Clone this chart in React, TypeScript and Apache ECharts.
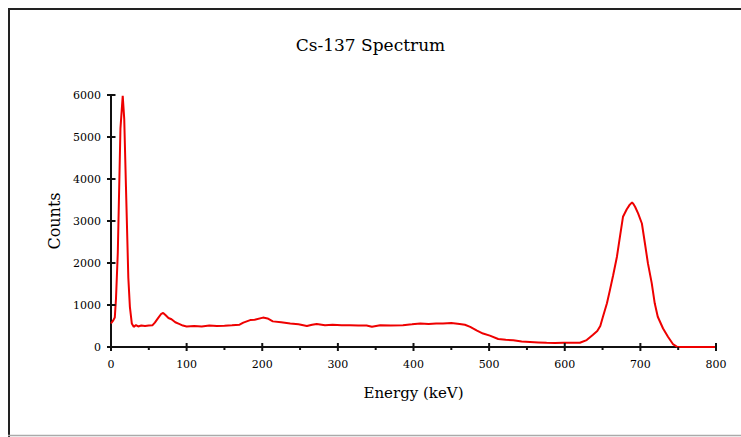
import React, { useEffect, useRef } from "react";
import * as echarts from "echarts";

const titleText = "Cs-137 Spectrum";
const xName = "Energy (keV)";
const yName = "Counts";

// Energy (keV)
const energy = [
  0, 2.5, 5, 6.6, 9, 12.5, 15.5, 17.5, 19.8, 22.9, 25, 27.5, 30, 33, 36, 40, 45, 50, 55, 58,
  62, 66, 69, 72, 76, 80, 85, 90, 95, 100, 110, 120, 130, 140, 150, 160, 170, 175, 184, 190,
  201, 207, 214, 225, 237, 248, 259, 266, 272, 283, 293, 305, 316, 327, 338, 345, 356, 370, 386, 398,
  409, 420, 430, 439, 450, 461, 468, 475, 484, 492, 501, 512, 522, 532, 543, 554, 565, 576, 587, 598,
  610, 620, 629, 637, 643, 647, 650.5, 655.8, 659.8, 664, 669, 673, 677, 682, 686, 689, 691, 693, 697, 702,
  706, 710, 715, 719, 723, 730, 736.5, 743, 749, 815,
];
// Counts
const counts = [
  560, 620, 700, 1150, 2250, 5200, 5980, 5430, 3800, 1650, 950, 560, 480, 520, 490, 510, 500, 510, 520, 580,
  680, 780, 810, 760, 690, 660, 590, 550, 510, 490, 500, 490, 510, 500, 505, 515, 530, 580, 640, 650,
  700, 680, 610, 590, 560, 540, 500, 530, 550, 520, 530, 520, 520, 510, 510, 480, 520, 510, 520, 540,
  560, 545, 560, 560, 570, 550, 530, 480, 390, 320, 270, 190, 170, 160, 130, 120, 110, 100, 95, 100,
  100, 100, 165, 285, 380, 500, 720, 1040, 1360, 1710, 2150, 2630, 3100, 3280, 3390, 3440, 3400, 3340, 3180, 2940,
  2470, 1990, 1520, 1040, 720, 440, 245, 70, 0, 0,
];

// Axis tick values
const xMajorTicks = [0, 100, 200, 300, 400, 500, 600, 700, 800];
const xMinorTicks = [50, 150, 250, 350, 450, 550, 650, 750];
const yMajorTicks = [0, 1000, 2000, 3000, 4000, 5000, 6000];

const FONT = "DejaVu Serif";

export default function App() {
  const ref = useRef<HTMLDivElement>(null);
  useEffect(() => {
    if (!ref.current) return;
    const chart = echarts.init(ref.current, undefined, { renderer: "svg" });
    const data = energy.map((e, i) => [e, counts[i]]);
    const axisColor = "#111";

    const tickSeries = (
      values: number[][],
      horizontal: boolean,
      before: number,
      after: number
    ) => ({
      type: "custom",
      coordinateSystem: "cartesian2d",
      xAxisIndex: 0,
      yAxisIndex: 0,
      data: values,
      encode: { x: 0, y: 1 },
      clip: false,
      silent: true,
      z: 10,
      renderItem: (_params: any, api: any) => {
        const p = api.coord([api.value(0), api.value(1)]);
        const shape = horizontal
          ? { x1: p[0] - before, y1: p[1], x2: p[0] + after, y2: p[1] }
          : { x1: p[0], y1: p[1] - before, x2: p[0], y2: p[1] + after };
        return {
          type: "line",
          shape,
          style: { stroke: axisColor, lineWidth: 2 },
        };
      },
    });

    chart.setOption({
      animation: false,
      backgroundColor: "#fff",
      title: {
        text: titleText,
        left: "center",
        top: 31,
        textStyle: { fontFamily: FONT, fontSize: 17, fontWeight: "normal", color: "#000" },
      },
      grid: { left: 111, top: 95, right: 25, bottom: 90 },
      xAxis: {
        type: "value",
        min: xMajorTicks[0],
        max: xMajorTicks[xMajorTicks.length - 1],
        interval: 100,
        position: "bottom",
        splitLine: { show: false },
        name: xName,
        nameLocation: "middle",
        nameGap: 38,
        nameTextStyle: { fontFamily: FONT, fontSize: 15, color: "#000" },
        axisLine: { show: true, onZero: false, lineStyle: { color: axisColor, width: 2 } },
        axisTick: { show: false },
        axisLabel: { show: true, fontFamily: FONT, fontSize: 11, color: "#000", margin: 12 },
        z: 1,
      },
      yAxis: {
        type: "value",
        min: yMajorTicks[0],
        max: yMajorTicks[yMajorTicks.length - 1],
        interval: 1000,
        position: "left",
        splitLine: { show: false },
        name: yName,
        nameLocation: "middle",
        nameGap: 49,
        nameTextStyle: { fontFamily: FONT, fontSize: 16, color: "#000" },
        axisLine: { show: true, onZero: false, lineStyle: { color: axisColor, width: 2 } },
        axisTick: { show: false },
        axisLabel: {
          show: true,
          fontFamily: FONT,
          fontSize: 11,
          color: "#000",
          margin: 10,
          formatter: (v: number) => String(v),
        },
        z: 1,
      },
      series: [
        {
          type: "line",
          xAxisIndex: 0,
          yAxisIndex: 0,
          data,
          clip: false,
          showSymbol: false,
          symbol: "none",
          lineStyle: { color: "#ee0000", width: 2 },
          z: 5,
        },
        tickSeries(xMajorTicks.map((v) => [v, 0]), false, 4, 4),
        tickSeries(xMinorTicks.map((v) => [v, 0]), false, 0, 3),
        tickSeries(yMajorTicks.map((v) => [0, v]), true, 4, 4.5),
      ],
      graphic: [
        { type: "line", shape: { x1: 9, y1: 8, x2: 9, y2: 437 }, style: { stroke: "#222", lineWidth: 2 } },
        { type: "line", shape: { x1: 8, y1: 9, x2: 741, y2: 9 }, style: { stroke: "#222", lineWidth: 2 } },
        { type: "line", shape: { x1: 8, y1: 435.5, x2: 741, y2: 435.5 }, style: { stroke: "#aaa", lineWidth: 1.5 } },
      ],
    });
    return () => chart.dispose();
  }, []);
  return (
    <div
      ref={ref}
      style={{ position: "fixed", left: 0, top: 0, width: 741, height: 437 }}
    />
  );
}
